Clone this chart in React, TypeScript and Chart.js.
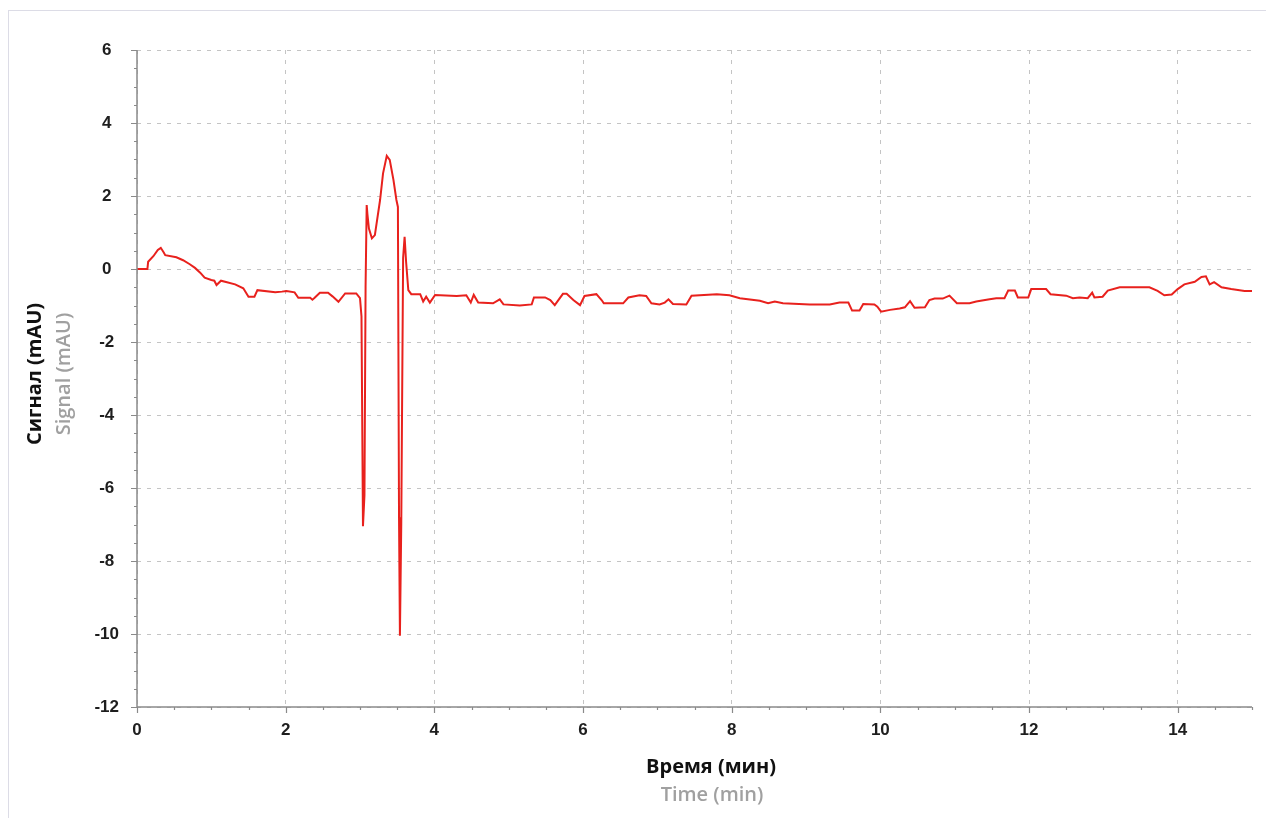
import React, { useEffect, useRef } from "react";
import { Chart, registerables } from "chart.js";

Chart.register(...registerables);

// Chromatogram trace: retention time (min) and detector signal (mAU)
const timeMin = [
  0, 0.14, 0.15, 0.22, 0.28, 0.32, 0.36, 0.38, 0.53, 0.62, 0.71, 0.78, 0.85, 0.91, 1.0, 1.04, 1.07, 1.13,
  1.32, 1.43, 1.5, 1.58, 1.62, 1.86, 1.95, 2.01, 2.12, 2.17, 2.33, 2.36, 2.39, 2.46, 2.57, 2.63, 2.71,
  2.8, 2.95, 3.0, 3.02, 3.04, 3.06, 3.075, 3.09, 3.1, 3.12, 3.16, 3.2, 3.27, 3.31, 3.36, 3.4, 3.45, 3.49,
  3.51, 3.525, 3.537, 3.555, 3.58, 3.6, 3.62, 3.65, 3.69, 3.81, 3.85, 3.89, 3.94, 4.01, 4.3, 4.43, 4.49,
  4.53, 4.59, 4.79, 4.88, 4.93, 5.15, 5.31, 5.34, 5.49, 5.56, 5.62, 5.73, 5.78, 5.87, 5.96, 6.02, 6.18,
  6.25, 6.28, 6.54, 6.61, 6.76, 6.85, 6.92, 7.03, 7.1, 7.15, 7.21, 7.39, 7.46, 7.8, 7.97, 8.11, 8.38,
  8.49, 8.58, 8.69, 9.05, 9.32, 9.45, 9.57, 9.62, 9.72, 9.77, 9.92, 9.96, 10.01, 10.13, 10.26, 10.33,
  10.4, 10.46, 10.6, 10.66, 10.73, 10.84, 10.93, 11.03, 11.2, 11.29, 11.47, 11.56, 11.67, 11.72, 11.81,
  11.85, 11.99, 12.03, 12.23, 12.29, 12.5, 12.59, 12.68, 12.79, 12.85, 12.88, 12.99, 13.06, 13.22,
  13.62, 13.73, 13.82, 13.92, 14.0, 14.09, 14.23, 14.32, 14.38, 14.43, 14.49, 14.59, 14.72, 14.9, 15.0,
];

const signalMau = [
  0, 0, 0.2, 0.35, 0.52, 0.58, 0.45, 0.38, 0.32, 0.24, 0.13, 0.03, -0.1, -0.24, -0.3, -0.32, -0.44, -0.32,
  -0.42, -0.53, -0.76, -0.76, -0.58, -0.64, -0.62, -0.6, -0.64, -0.79, -0.79, -0.84, -0.79, -0.65, -0.65,
  -0.75, -0.9, -0.67, -0.67, -0.8, -1.3, -7.05, -6.2, -0.5, 1.75, 1.5, 1.11, 0.84, 0.93, 1.89, 2.62, 3.1,
  2.99, 2.44, 1.89, 1.7, -6.8, -10.05, -7.0, 0.3, 0.88, 0.2, -0.58, -0.69, -0.69, -0.89, -0.76, -0.92,
  -0.71, -0.74, -0.72, -0.92, -0.71, -0.92, -0.94, -0.83, -0.97, -1.0, -0.97, -0.78, -0.78, -0.85, -0.99,
  -0.68, -0.68, -0.85, -0.99, -0.74, -0.69, -0.85, -0.94, -0.94, -0.78, -0.72, -0.74, -0.94, -0.97, -0.92,
  -0.83, -0.96, -0.97, -0.73, -0.69, -0.72, -0.8, -0.87, -0.94, -0.89, -0.94, -0.97, -0.97, -0.92, -0.92,
  -1.14, -1.14, -0.96, -0.97, -1.03, -1.17, -1.12, -1.08, -1.05, -0.88, -1.06, -1.05, -0.85, -0.81, -0.81,
  -0.73, -0.94, -0.94, -0.89, -0.83, -0.8, -0.8, -0.59, -0.59, -0.78, -0.78, -0.55, -0.55, -0.69, -0.73,
  -0.8, -0.78, -0.8, -0.65, -0.78, -0.76, -0.59, -0.5, -0.5, -0.6, -0.72, -0.7, -0.55, -0.42, -0.35,
  -0.22, -0.2, -0.42, -0.36, -0.5, -0.55, -0.6, -0.6,
];

// Axis ranges and labels
const xRange = [0, 15];
const yRange = [-12, 6];
const majorStep = 2;
const minorStep = 0.5;

const xTitle = "Время (мин)";
const xSubtitle = "Time (min)";
const yTitle = "Сигнал (mAU)";
const ySubtitle = "Signal (mAU)";

const WIDTH = 1266;
const HEIGHT = 818;

const axisPlugin = {
  id: "axisDecor",
  afterDraw(chart: any) {
    const { ctx, chartArea, scales } = chart;
    const xs = scales.x;
    const ys = scales.y;
    ctx.save();

    // outer frame
    ctx.strokeStyle = "#dcdce6";
    ctx.lineWidth = 1;
    ctx.strokeRect(8.5, 10.5, WIDTH + 20, HEIGHT + 20);

    // axis lines
    ctx.strokeStyle = "#8a8a8a";
    ctx.lineWidth = 1.5;
    ctx.beginPath();
    ctx.moveTo(chartArea.left, chartArea.top);
    ctx.lineTo(chartArea.left, chartArea.bottom);
    ctx.lineTo(chartArea.right, chartArea.bottom);
    ctx.stroke();

    // major and minor tick marks
    ctx.lineWidth = 1.2;
    ctx.beginPath();
    for (let v = xRange[0]; v <= xRange[1] + 1e-9; v += minorStep) {
      const px = Math.round(xs.getPixelForValue(v)) + 0.5;
      const major = Math.abs(v / majorStep - Math.round(v / majorStep)) < 1e-6;
      ctx.moveTo(px, chartArea.bottom);
      ctx.lineTo(px, chartArea.bottom + (major ? 6 : 3));
    }
    for (let v = yRange[0]; v <= yRange[1] + 1e-9; v += minorStep) {
      const py = Math.round(ys.getPixelForValue(v)) + 0.5;
      const major = Math.abs(v / majorStep - Math.round(v / majorStep)) < 1e-6;
      ctx.moveTo(chartArea.left, py);
      ctx.lineTo(chartArea.left - (major ? 6 : 3), py);
    }
    ctx.stroke();

    // x axis titles
    ctx.textAlign = "center";
    ctx.textBaseline = "middle";
    ctx.fillStyle = "#111111";
    ctx.font = "bold 20px 'Open Sans'";
    ctx.fillText(xTitle, 711, 767);
    ctx.fillStyle = "#a0a0a0";
    ctx.font = "600 20px 'Open Sans'";
    ctx.fillText(xSubtitle, 712, 795);

    // y axis titles (rotated)
    ctx.save();
    ctx.translate(35, 374);
    ctx.rotate(-Math.PI / 2);
    ctx.fillStyle = "#111111";
    ctx.font = "bold 20px 'Open Sans'";
    ctx.fillText(yTitle, 0, 0);
    ctx.restore();
    ctx.save();
    ctx.translate(64, 374);
    ctx.rotate(-Math.PI / 2);
    ctx.fillStyle = "#a0a0a0";
    ctx.font = "600 20px 'Open Sans'";
    ctx.fillText(ySubtitle, 0, 0);
    ctx.restore();

    ctx.restore();
  },
};

export default function App() {
  const canvasRef = useRef<HTMLCanvasElement | null>(null);

  useEffect(() => {
    const canvas = canvasRef.current;
    if (!canvas) return;
    const points = timeMin.map((t, i) => ({ x: t, y: signalMau[i] }));

    const tickFont = { family: "'Liberation Sans', Arial, sans-serif", size: 17, weight: "bold" as const };

    const chart = new Chart(canvas, {
      type: "line",
      data: {
        datasets: [
          {
            data: points,
            borderColor: "#e8211d",
            borderWidth: 2,
            pointRadius: 0,
            tension: 0,
            fill: false,
          },
        ],
      },
      options: {
        responsive: false,
        animation: false,
        devicePixelRatio: 1,
        layout: { padding: { left: 0, right: 14, top: 50, bottom: 0 } },
        plugins: {
          legend: { display: false },
          tooltip: { enabled: false },
          title: { display: false },
        },
        scales: {
          x: {
            type: "linear",
            min: xRange[0],
            max: xRange[1],
            border: { display: false, dash: [4, 6] },
            grid: { color: "#c4c4c4", lineWidth: 1, drawTicks: false },
            ticks: {
              stepSize: majorStep,
              includeBounds: false,
              padding: 13,
              color: "#1e1e1e",
              font: tickFont,
              maxRotation: 0,
            },
            afterFit(scale: any) {
              scale.height = 111;
            },
          },
          y: {
            type: "linear",
            min: yRange[0],
            max: yRange[1],
            border: { display: false, dash: [4, 6] },
            grid: { color: "#c4c4c4", lineWidth: 1, drawTicks: false },
            ticks: {
              stepSize: majorStep,
              padding: 18,
              crossAlign: "center",
              color: "#1e1e1e",
              font: tickFont,
            },
            afterFit(scale: any) {
              scale.width = 137;
            },
          },
        },
      },
      plugins: [axisPlugin],
    });

    return () => chart.destroy();
  }, []);

  return (
    <div style={{ position: "absolute", left: 0, top: 0, width: WIDTH, height: HEIGHT, background: "#ffffff" }}>
      <canvas ref={canvasRef} width={WIDTH} height={HEIGHT} style={{ display: "block" }} />
    </div>
  );
}
